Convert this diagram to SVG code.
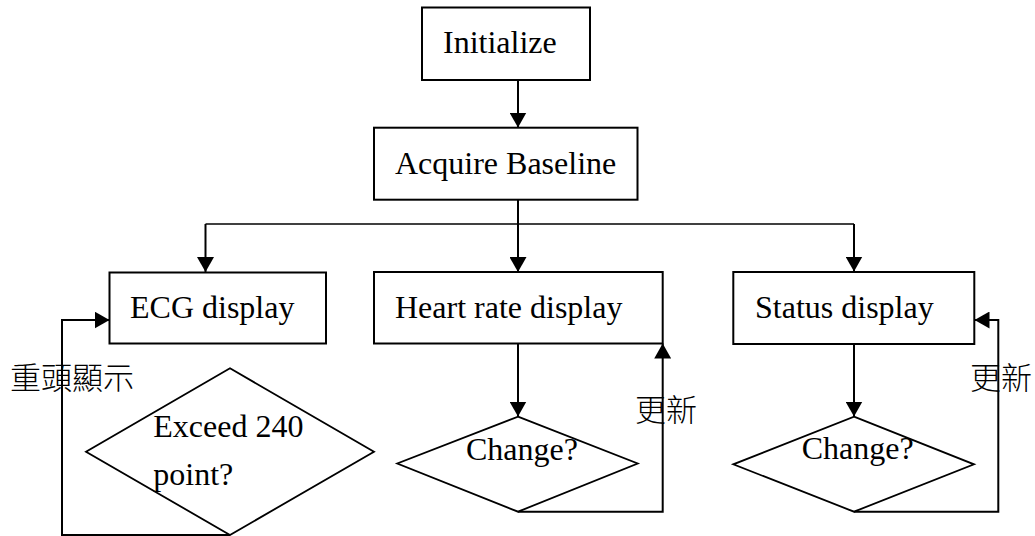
<svg xmlns="http://www.w3.org/2000/svg" width="1035" height="536" viewBox="0 0 1035 536">
  <style>
    .box { fill: #ffffff; stroke: #000000; stroke-width: 2; }
    .dia { fill: #ffffff; stroke: #000000; stroke-width: 1.8; }
    .lbl { font-family: "Liberation Serif", "Times New Roman", serif; font-size: 32px; fill: #000000; }
    .cjk { font-family: "Liberation Serif", "Noto Sans CJK TC", sans-serif; font-size: 31px; font-weight: 300; fill: #000000; }
    .wire { fill: none; stroke: #000000; stroke-width: 2; }
    .thin { fill: none; stroke: #000000; stroke-width: 1.6; }
  </style>
  <defs>
    <marker id="head" markerUnits="userSpaceOnUse" markerWidth="15" markerHeight="17" refX="15" refY="8.5" orient="auto">
      <path d="M0,0 L15,8.5 L0,17 Z" fill="#000000"/>
    </marker>
  </defs>
  <rect width="1035" height="536" fill="#ffffff"/>

  <!-- connectors -->
  <g id="connectors">
    <path class="wire" d="M518,80 V127.5" marker-end="url(#head)"/>
    <path class="wire" d="M518,200 V272" marker-end="url(#head)"/>
    <path class="thin" d="M205.5,224 H854"/>
    <path class="wire" d="M205.5,224 V272" marker-end="url(#head)"/>
    <path class="wire" d="M854,224 V271.5" marker-end="url(#head)"/>
    <path class="wire" d="M518,343.5 V416.5" marker-end="url(#head)"/>
    <path class="wire" d="M854,344 V416.5" marker-end="url(#head)"/>
    <!-- repeat loop for the ECG trace -->
    <path class="wire" d="M230,535 H62 V320 H109.5" marker-end="url(#head)"/>
    <!-- refresh loops -->
    <path class="wire" d="M518,511.7 H662.7 V343.5" marker-end="url(#head)"/>
    <path class="wire" d="M854,511.7 H998.3 V320 H974.5" marker-end="url(#head)"/>
  </g>

  <g id="initialize">
    <rect class="box" x="422" y="7.5" width="168" height="72.5"/>
    <text class="lbl" x="443" y="52.7">Initialize</text>
  </g>

  <g id="acquire-baseline">
    <rect class="box" x="374" y="127.7" width="263.5" height="72"/>
    <text class="lbl" x="395" y="174">Acquire Baseline</text>
  </g>

  <g id="ecg-display">
    <rect class="box" x="109.5" y="272.5" width="216.5" height="71"/>
    <text class="lbl" x="130" y="318.3">ECG display</text>
  </g>

  <g id="heart-rate-display">
    <rect class="box" x="374" y="272" width="288.7" height="71.5"/>
    <text class="lbl" x="395" y="317.7">Heart rate display</text>
  </g>

  <g id="status-display">
    <rect class="box" x="733.3" y="272" width="241" height="72"/>
    <text class="lbl" x="755" y="317.7">Status display</text>
  </g>

  <g id="ecg-check">
    <polygon class="dia" points="230,368.3 374,451.7 230,535 86,451.7"/>
    <text class="lbl" x="153.3" y="436.7">Exceed 240</text>
    <text class="lbl" x="153.3" y="485">point?</text>
  </g>

  <g id="heart-rate-check">
    <polygon class="dia" points="518,416.7 637.7,463.5 518,511.7 397.3,463.5"/>
    <text class="lbl" x="466" y="460">Change?</text>
  </g>

  <g id="status-check">
    <polygon class="dia" points="854,416.7 974,464.3 854,511.7 733.3,464.3"/>
    <text class="lbl" x="801.7" y="459.3">Change?</text>
  </g>

  <g id="loop-labels">
    <text class="cjk" x="10" y="389" font-size="31.5">重頭顯示</text>
    <text class="cjk" x="635" y="421">更新</text>
    <text class="cjk" x="970" y="389">更新</text>
  </g>
</svg>
